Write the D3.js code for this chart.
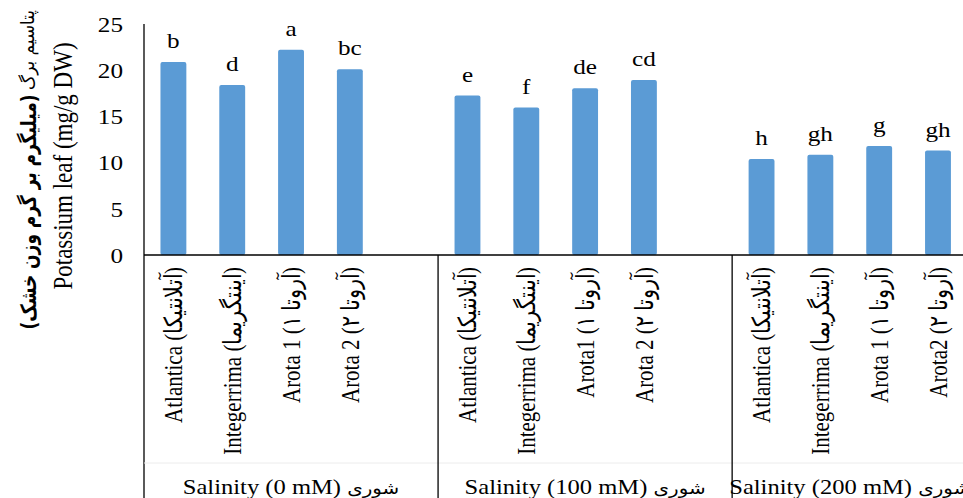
<!DOCTYPE html>
<html><head><meta charset="utf-8">
<script src="https://cdn.jsdelivr.net/npm/d3@7/dist/d3.min.js"></script>
<style>
html,body{margin:0;padding:0;background:#fff;}
svg{display:block;}
svg text{font-family:"Liberation Serif","Times New Roman",serif;fill:#000;}
svg text.fa, svg tspan.fa{font-family:"DejaVu Sans","Noto Sans",sans-serif;}
</style></head>
<body>
<svg id="chart" width="963" height="498"></svg>
<script>
// ---- data ----
const categories = [
  "Atlantica (آتلانتیکا)", "Integerrima (اینتگریما)", "Arota 1 (آروتا ۱)", "Arota 2 (آروتا ۲)", "",
  "Atlantica (آتلانتیکا)", "Integerrima (اینتگریما)", "Arota1  (آروتا ۱)", "Arota 2 (آروتا ۲)", "",
  "Atlantica (آتلانتیکا)", "Integerrima (اینتگریما)", "Arota 1 (آروتا ۱)", "Arota2 (آروتا ۲)"
];
const potassium = [20.9, 18.4, 22.2, 20.1, null, 17.25, 15.95, 18.05, 18.95, null, 10.4, 10.85, 11.8, 11.3];
const letters = ["b", "d", "a", "bc", "", "e", "f", "de", "cd", "", "h", "gh", "g", "gh"];
const groupsEn = ["Salinity (0 mM)", "Salinity (100 mM)", "Salinity (200 mM)"];
const groupFa = "شوری";
const groupStarts = [0, 5, 10];
const groupEnds = [5, 10, 14];
const yTicks = [0, 5, 10, 15, 20, 25];
const yTitleEn = "Potassium leaf (mg/g DW)";
const yTitleFaA = "پتاسیم برگ";
const yTitleFaB = "(میلیگرم بر گرم وزن خشک)";

// ---- layout ----
const SX = 1.2; // horizontal stretch of text in the reference
const left = 144, right = 967.4, y0 = 255, yTop = 24, bottom = 498;
const svg = d3.select("#chart");

const x = d3.scaleBand().domain(d3.range(categories.length)).range([left, right])
  .paddingInner(0.56).paddingOuter(0.28);
const y = d3.scaleLinear().domain([0, 25]).range([y0, yTop]);

const barData = potassium.map((v, i) => ({v, i})).filter(d => d.v != null);

// bars
svg.append("g").selectAll("rect").data(barData)
  .join("rect")
  .attr("x", d => x(d.i)).attr("width", x.bandwidth())
  .attr("y", d => y(d.v)).attr("height", d => y(0) - y(d.v))
  .attr("rx", 2).attr("fill", "#5B9BD5");

// letters
svg.append("g").selectAll("text").data(barData)
  .join("text")
  .attr("transform", d => `translate(${x(d.i) + x.bandwidth() / 2},${y(d.v) - 14}) scale(${SX},1)`)
  .attr("text-anchor", "middle").style("font-size", "21px")
  .text(d => letters[d.i]);

// y axis
const yAxis = svg.append("g").attr("transform", `translate(${left},0)`)
  .call(d3.axisLeft(y).tickValues(yTicks).tickSize(0).tickPadding(0));
yAxis.attr("font-family", null).attr("font-size", null);
yAxis.select(".domain").remove();
yAxis.selectAll("text")
  .attr("x", null).attr("dy", "0.35em")
  .attr("transform", `translate(-21,0) scale(${SX},1)`)
  .style("font-size", "21px");

// axis lines
svg.append("line").attr("x1", left).attr("x2", left).attr("y1", y(25)).attr("y2", bottom)
  .attr("stroke", "#000").attr("stroke-width", 1.3);
svg.append("line").attr("x1", left).attr("x2", right).attr("y1", y0).attr("y2", y0)
  .attr("stroke", "#000").attr("stroke-width", 1.3);
svg.append("line").attr("x1", left).attr("x2", right).attr("y1", 463).attr("y2", 463)
  .attr("stroke", "#ececec").attr("stroke-width", 1);
groupStarts.slice(1).forEach(s => {
  const bx = x(s) - x.step() * x.paddingOuter();
  svg.append("line").attr("x1", bx).attr("x2", bx).attr("y1", y0).attr("y2", bottom)
    .attr("stroke", "#000").attr("stroke-width", 1.3);
});

// category labels (rotated)
svg.append("g").selectAll("text").data(categories.map((c, i) => ({c, i})).filter(d => d.c))
  .join("text")
  .attr("transform", d => `translate(${x(d.i) + x.bandwidth() / 2},267) scale(${SX},1) rotate(-90)`)
  .attr("text-anchor", "end").attr("dy", "0.35em").style("font-size", "21px")
  .text(d => d.c);

// group labels
groupsEn.forEach((g, k) => {
  const cx = left + (groupStarts[k] + groupEnds[k]) / 2 * x.step();
  const t = svg.append("text")
    .attr("transform", `translate(${cx},494) scale(1.17,1)`)
    .attr("text-anchor", "middle").style("font-size", "21px");
  t.append("tspan").text(g + "  ");
  t.append("tspan").attr("class", "fa").style("font-size", "17px").text(groupFa);
});

// y titles
svg.append("text")
  .attr("transform", `translate(62,166) scale(${SX},1) rotate(-90)`)
  .attr("text-anchor", "middle").attr("dy", "0.35em").style("font-size", "23px")
  .text(yTitleEn);
svg.append("text").attr("class", "fa")
  .attr("transform", `translate(28,50) scale(${SX},1) rotate(-90)`)
  .attr("text-anchor", "middle").attr("dy", "0.35em").attr("direction", "rtl")
  .attr("textLength", 80).attr("lengthAdjust", "spacingAndGlyphs")
  .style("font-size", "15px").text(yTitleFaA);
svg.append("text").attr("class", "fa")
  .attr("transform", `translate(28,212) scale(${SX},1) rotate(-90)`)
  .attr("text-anchor", "middle").attr("dy", "0.35em").attr("direction", "rtl")
  .attr("textLength", 235).attr("lengthAdjust", "spacingAndGlyphs")
  .style("font-size", "18px").style("font-weight", "bold").text(yTitleFaB);
</script>
</body></html>
